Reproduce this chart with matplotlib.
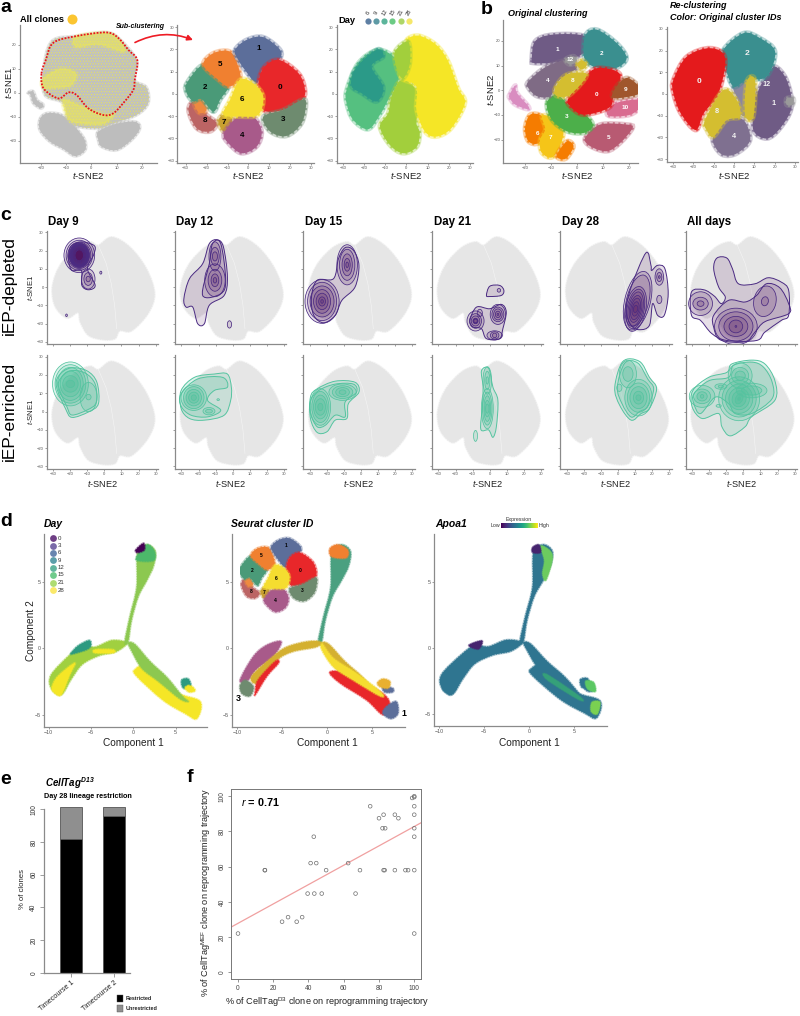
import numpy as np
import matplotlib
matplotlib.use('Agg')
import matplotlib.pyplot as plt
from matplotlib.path import Path
from matplotlib.patches import PathPatch, Ellipse, FancyArrowPatch, Rectangle

plt.rcParams['font.family'] = ['Liberation Sans', 'DejaVu Sans']
plt.rcParams['mathtext.fontset'] = 'custom'
plt.rcParams['mathtext.rm'] = 'Liberation Sans'
plt.rcParams['mathtext.it'] = 'Liberation Sans:italic'
plt.rcParams['mathtext.bf'] = 'Liberation Sans:bold'
plt.rcParams['mathtext.default'] = 'regular'
plt.rcParams['hatch.linewidth'] = 0.35

W, H = 800, 1016
TSNE2 = r'$\mathit{t}$-SNE2'
TSNE1 = r'$\mathit{t}$-SNE1'

# ---- panel a, outlines (t-SNE units)
a1_body = [(-19, 8.8), (-15.7, 21.3), (-5.8, 23.6), (6, 25.1), (11.3, 22.2), (17.9, 13.6), (17.2, 5.3), (21.8, 2.2),
           (22.5, -4.4), (17.9, -9.3), (8.7, -12.8), (2.1, -14.9), (-8.4, -12.8), (-11, -4.4), (-18.3, -1)]
a1_strand = [(-25, 0), (-24, -1), (-22.9, -4.4), (-20, -6.5), (-19, -5), (-21.5, -3), (-23, 0.5)]
a1_low_left = [(-20.3, -11), (-17.6, -8.6), (-12.4, -9), (-8.4, -12), (-5, -16), (-2.5, -20), (-2.5, -24), (-6.4, -26.4),
               (-11, -23.5), (-16.3, -20.4), (-20.3, -15.6)]
a1_low_right = [(2.7, -16.3), (9.3, -13.1), (17.2, -12.1), (19.2, -14.9), (15.9, -19.7), (10, -23.9), (4.1, -22.5),
                (2.8, -19.7)]
a1_yellow_top = [(-6, 23.4), (6, 25), (11, 22), (13, 17), (3, 20), (-6, 19)]
a1_yellow_left = [(-19, 6), (-12, 10), (-6, 8), (-8, 3), (-14, 2), (-19, 2)]
a1_yellow_low = [(-11, -3), (-3, -6), (5, -9), (9, -9), (5, -13), (-3, -13), (-9, -11)]
a1_red_line = [(-19.7, 8), (-18, 13.6), (-15, 20.8), (-5.8, 23.6), (6, 25.1), (10.7, 22.8), (14.7, 17.8), (18.2, 13.6),
               (17.2, 5.3), (16.6, 1.1), (12.6, -4.4), (8.7, -8.6), (4.7, -9.3), (-1.2, -6.5), (-5.8, -1), (-9.1, 0.1),
               (-13, -2.4), (-18.9, 1.8)]

sub_1 = [(-6.5, 19.7), (-0.9, 24.3), (7.1, 25.5), (15.2, 19.7), (14.4, 15.3), (7.1, 11.6), (3.9, 4.8), (-1.7, 10.8), (-4.9, 15.3)]
sub_0 = [(7.1, 11.6), (14.4, 15.3), (23.9, 9.3), (27, 1.8), (25.4, -2.7), (16.6, -7.2), (7.1, -7.2), (4.7, 3.3)]
sub_3 = [(16.6, -7.2), (25.4, -2.7), (27.5, -4.2), (25.4, -13.2), (18.2, -18.9), (10.3, -16.9), (7.1, -10.2)]
sub_4 = [(-11.7, -17.7), (-4.9, -10.2), (2.3, -10.2), (6.3, -16.9), (3.9, -23.7), (-3.3, -26.7), (-9.6, -22.2)]
sub_6 = [(-4.1, 6.3), (2.3, 4.8), (7.1, -1.2), (4.7, -9.4), (-4.1, -10.2), (-12, -9.4), (-8.8, -2.7)]
sub_7 = [(-14.4, -12.4), (-12, -9.4), (-8, -10.9), (-8.8, -15.4), (-12, -16.9)]
sub_8 = [(-28.7, -7.2), (-25.6, -3.4), (-20, -9.4), (-15.2, -13.2), (-18.4, -16.9), (-24.8, -15.4)]
sub_8b = [(-25.6, -3.4), (-22.4, -2.4), (-20, -7.2), (-23.2, -8.7), (-25.6, -5.7)]
sub_2 = [(-29.5, 4.8), (-21.6, 13), (-14.4, 6.3), (-9.6, 3.3), (-13.6, -2.7), (-16.8, -8), (-22.4, -2.4), (-26.3, -3.4), (-29.5, 0.3)]
sub_5 = [(-21.6, 13), (-16.8, 18.3), (-8.8, 19), (-4.9, 12.3), (-4.1, 6.3), (-9.6, 3.3), (-14.4, 6.3)]
sub_shapes = [sub_8, sub_8b, sub_2, sub_5, sub_1, sub_0, sub_3, sub_7, sub_4, sub_6]
sub_colors = ['#BC6464', '#EE8A40', '#4A9A78', '#F08030', '#5C6E9A', '#E8272A', '#6E8B6F', '#C8A030', '#A85A8A', '#F5DD30']
sub_ids = ['1', '0', '5', '2', '6', '3', '8', '7', '4']
sub_id_x = [4.7, 15, -13.6, -20.8, -3.1, 16.4, -21, -11.7, -3.1]
sub_id_y = [20.2, 3, 13, 3, -2.7, -11.7, -12, -12.7, -18.9]

day_green = [(-28.4, 1.8), (-22.9, 13.8), (-13.4, 19.8), (-4.7, 15.3), (-3.9, 6.3), (-8.7, -2.7), (-12.6, -9.4), (-18.2, -15.9), (-25.3, -11.7), (-28.4, -4.2)]
day_teal = [(-25.3, 9.3), (-20.5, 15.3), (-13.4, 20.1), (-11, 16.8), (-16.6, 12.3), (-11, 3), (-14.2, -3.4), (-21.3, 0.3), (-26, 3.3)]
day_lime_up = [(-5.5, 19), (0.8, 23.5), (1.6, 13.8), (-1.6, 7), (-4.7, 11.5)]
day_lime_low = [(-2.4, 6.3), (4.7, 1.8), (5.5, -7.2), (4.7, -13.2), (6.3, -17.7), (4.7, -24), (-1.6, -26.7), (-7.9, -23), (-12.6, -14.7), (-8.7, -8.7), (-7.1, -1.2)]
day_yellow = [(0.8, 25), (6.3, 26.1), (14.2, 22), (19.8, 14.6), (24.5, 2.5), (27.7, -4.2), (21.3, -15.4), (14.2, -19.2), (8.7, -16.9), (4.7, -7.2), (4.7, 3.3), (-2.4, 7), (-3.2, 13), (-0.8, 21.3)]
day_shapes = [day_green, day_teal, day_lime_low, day_yellow, day_lime_up]
day_colors = ['#55C080', '#2B9A88', '#A2CF3C', '#F5E626', '#A2CF3C']
day_names = ['6', '9', '12', '15', '21', '28']
day_swatch = ['#5E7FA3', '#5E9AA5', '#5CB59B', '#6CCB85', '#AED668', '#F5E76A']

# ---- panel b
orig_1 = [(-17.4, 12.4), (-16.1, 19.9), (-9, 22.6), (3.1, 21.9), (3.1, 15.8), (-2.7, 12.4), (-10.4, 11.1), (-16.8, 11.1)]
orig_2 = [(3.1, 21.9), (7.6, 24.6), (15.3, 19.2), (19.2, 13.1), (15.3, 9.1), (8.3, 9.1), (3.1, 12.4)]
orig_4 = [(-18.7, 3.6), (-11.6, 9.7), (-2.7, 12.4), (0, 9.1), (-3.9, 6.4), (-7.7, 3), (-10.3, -2.4), (-15.4, -2.4), (-18.7, 0.9)]
orig_8 = [(-8.4, 0.9), (-3.9, 6.4), (3.9, 6.4), (-2.6, -1.8), (-7.7, -2.4)]
orig_12 = [(-4.5, 12.4), (-1.3, 13.8), (0, 11.8), (-2.6, 10.4)]
orig_y = [(0, 10.4), (1.9, 12.2), (3.9, 10.4), (1.9, 8.4)]
orig_0 = [(-3.2, -3.1), (3.9, 6.4), (9, 9.1), (16.7, 6.4), (14.2, -2.4), (12.2, -7.2), (2.6, -9.9), (-2.6, -6.5)]
orig_9 = [(14.8, 0.9), (19.3, 5), (24.5, 0.9), (23.2, -1.8), (14.2, -3.1)]
orig_10 = [(11.8, -8.5), (15.4, -5.1), (23.8, -3.8), (24.7, -6.5), (20.6, -9.9), (12.9, -10.5)]
orig_3 = [(-11.6, -5.1), (-7.7, -1.8), (-2.6, -6.5), (3.9, -10.5), (6.2, -14.6), (2.6, -17.3), (-3.9, -16.6), (-9.7, -11.9)]
orig_5 = [(3.2, -19.3), (9, -13.9), (19.3, -13.9), (21.5, -15.3), (16.7, -21.4), (11.6, -24.7), (5.2, -22.7)]
orig_6 = [(-20, -15.3), (-18, -9.9), (-13.5, -10.5), (-12.2, -15.9), (-14.8, -21.4), (-18.7, -20.7)]
orig_7 = [(-13.5, -10.5), (-9.7, -11.2), (-5.2, -17.3), (-9, -26.8), (-13.5, -25.4), (-14.2, -20), (-12.2, -15.9)]
orig_6b = [(-7.7, -26.1), (-3.9, -20.7), (-1.3, -22.7), (-3.9, -27.4), (-6.5, -27.8)]
orig_pink = [(-26, -1.8), (-23.8, 1.9), (-23.2, -1), (-18.7, -6.5), (-19.3, -7.6), (-23.8, -5.8), (-26, -3.1)]
orig_shapes = [orig_pink, orig_6, orig_7, orig_6b, orig_5, orig_3, orig_1, orig_2, orig_4, orig_10, orig_0, orig_8, orig_9, orig_12, orig_y]
orig_colors = ['#D98CC0', '#F57C00', '#F5C518', '#F57C00', '#B85A72', '#4CAF4A', '#6F5B85', '#3A8F8F', '#7F6B85', '#D96C90', '#E41A1C', '#D4BE30', '#A0562C', '#9A9A9A', '#D4BE30']
orig_ids = ['1', '2', '4', '8', '0', '9', '10', '3', '5', '6', '7', '12']
orig_id_x = [-7.4, 9.5, -11.3, -1.5, 7.6, 18.8, 18.8, -3.8, 12.3, -15.2, -10.3, -2.5]
orig_id_y = [16.5, 15, 4, 4, -1.6, 0.2, -7, -10.5, -19, -17.6, -19, 12.5]

re_0 = [(-29.9, 6.5), (-23.3, 17.2), (-11.8, 21.1), (-4.4, 16.5), (-7.7, 0.3), (-15, -8.9), (-18.9, -16.6), (-26.3, -8.9), (-29.9, 0.3)]
re_2 = [(-5.3, 20.3), (4.6, 28), (12.8, 25.7), (20.2, 19.5), (16.1, 8), (6.2, 6.5), (-0.3, 3.4), (-4.4, 12.6)]
re_1 = [(16.1, 8), (20.2, 12.6), (25.9, 6.5), (28.4, -5.8), (22.7, -15.8), (16.1, -20.5), (9.5, -16.6), (10.3, -4.3), (12.8, 3.4)]
re_4 = [(-10.2, -19.7), (-3.6, -12), (4.6, -12), (7.9, -21.2), (1.3, -27.4), (-5.3, -28.2), (-9.4, -24.3)]
re_8 = [(-14.3, -12), (-5.3, 1.8), (1.3, -2.8), (3, -10.5), (-3.6, -12), (-10.2, -19.7), (-13.5, -16.6)]
re_y = [(6.2, 5.7), (10.3, 6.5), (9.5, -10.5), (5.4, -9.7)]
re_g = [(25.9, -2), (29.2, -2), (28.9, -5), (25.9, -5)]
re_mid = [(-0.3, 3.4), (6.2, 6.5), (10, 3), (10, -8), (4, -10), (2, -3)]
re_shapes = [re_mid, re_1, re_4, re_2, re_0, re_8, re_y, re_g]
re_colors = ['#8C86A0', '#6F5B85', '#7F7090', '#3A8F8F', '#E41A1C', '#D4BE30', '#D4BE30', '#9A9A9A']
re_ids = ['2', '0', '12', '1', '8', '4']
re_id_x = [6.6, -17.4, 16.1, 19.4, -8.5, -0.3]
re_id_y = [18.5, 5.7, 4.2, -4.3, -8.2, -19.7]

# ---- panel c, grey map and density contours
map_outline = [(-30.6, -1.8), (-28.5, 7), (-24, 14.5), (-16, 21.9), (-8.3, 24.7), (-3.5, 22.9), (4.3, 27.4), (14.9, 21.9), (24.6, 10),
               (29.4, -3.7), (25.5, -14.6), (15.9, -24), (9, -24), (6.2, -28.3), (-0.6, -28.9), (-9.3, -26.5),
               (-14.1, -19.2), (-15.5, -14), (-21.9, -17), (-28.6, -11)]
map_gap_x = [-3.5, 1, 4, 6, 7.2]
map_gap_y = [22.9, 13, 2, -10, -22.9]

# peak rows: centre x, centre y, ring widths, ring heights, tilt
dep_d9_lines = [[(-20.9, 14.6), (-19.9, 21.9), (-14.1, 24.7), (-8.3, 23.8), (-5.4, 21.9), (-6.4, 17.4), (-9.9, 10), (-5.4, 0.9), (-9.3, -1.5), (-13.2, 0.9), (-13.5, 9.1), (-19, 9.1)]]
dep_d9_peaks = [(-14.7, 17.4, [18, 15.5, 13.5, 12, 11.5, 11, 10.5, 10, 9.5, 9, 8.5, 8, 7, 6, 5], [19, 16.5, 14.5, 13.5, 13, 12.5, 12, 11.5, 11, 10.5, 10, 9, 8, 7, 6], 0),
                (-9.5, 4.4, [8, 5, 2.5], [11, 7, 3], 0), (-2.1, 7.9, [1.2], [1.6], 0), (-22.2, -15.5, [1], [1.4], 0)]
dep_d12_lines = [[(-28.6, -6.4), (-25.3, 4.6), (-17.6, 12.8), (-13.7, 23.8), (-8.9, 25.9), (-5.4, 21.9), (-3.1, 5.5), (-5, -4.6), (-13.7, -10), (-16.6, -20.1), (-20.5, -20.1), (-23.4, -11), (-27.3, -11)],
                 [(-17.6, -4.6), (-13.7, 12.8), (-11.8, 23.8), (-7, 23.8), (-4.1, 3.7), (-7, -3.7)]]
dep_d12_peaks = [(-10.4, 16.8, [7, 5, 3], [16, 10, 5], 0), (-10.4, 3.7, [12, 8, 4.5, 2], [18, 12, 7, 3], 0), (-1.9, -20.5, [2.5], [4], 0)]
dep_d15_lines = [[(-29, -5.5), (-25.7, 3.7), (-16.1, 4.6), (-13.2, 15.5), (-9.3, 21.6), (-4.4, 20.1), (-1.2, 11.9), (-3.5, 0), (-11.2, -7.3), (-15.1, -15.5), (-21.9, -19.6), (-27.7, -15.5)]]
dep_d15_peaks = [(-8.1, 12.2, [12, 9, 6, 3.5, 1.5], [22, 17, 12, 7, 3], 0), (-22.8, -7.9, [20, 17, 14, 10, 7, 4, 1.5], [24, 21, 17, 13, 9, 5, 2], 0)]
dep_d21_lines = [[(-1.9, -4.6), (0, 0.4), (5.8, 0.9), (8.3, -1.8), (6.8, -4.6), (0, -5.2)],
                 [(-11.6, -18.3), (-7.7, -11), (0, -11.9), (6.8, -9.5), (9.7, -13.7), (7.7, -22.9), (5.8, -28.3), (-1.9, -28.3), (-4.8, -22.9), (-9.7, -21.9)]]
dep_d21_peaks = [(5.4, -1.8, [2], [2], 0), (-8.3, -18.6, [10, 7, 5, 3, 2.5, 2], [11, 8, 5.5, 3, 2.5, 2], 0), (4.8, -15, [9, 7, 5, 3, 1], [11, 8, 6, 3.5, 1.2], 0),
                 (2.9, -26.5, [9, 5, 2.5], [5, 4, 2.5], 0), (-5.8, -14.2, [3], [4], 0)]
dep_d28_lines = [[(4.8, -12.8), (7.7, 0), (16.4, 18.8), (19.3, 11.9), (19.7, 9.1), (23.2, 11.9), (27.5, 10), (29.4, -3.7), (27.1, -15.5), (23.2, -15.5), (20.3, -9.1), (18.4, -21), (12.6, -23.4), (7.7, -21)]]
dep_d28_peaks = [(24.2, 5.5, [5, 3, 1], [9, 5, 1.5], 0), (24.2, -6.8, [3], [4.5], 0), (11.5, -7.5, [15, 13], [33, 29], -15),
                 (10.3, -12, [12, 10, 8.5, 7, 5.5, 4, 2.5], [25, 22, 19, 15, 12, 8, 4], -12)]
dep_all_lines = [[(-30.4, -15.5), (-30.4, -2.7), (-23.2, -1.5), (-17, -5), (-13, -9.1), (-10.6, -5.5), (-14.5, 0), (-17.4, 10), (-15.5, 15.9), (-9.7, 15.9), (-6.4, 10), (-2.9, 1.8), (6.8, 1.8), (14.5, 5.1), (22.2, 2.7), (26.5, -1.8), (26.5, -15.5), (22.2, -18.3), (12.6, -24.7), (7.7, -29.3), (-9.7, -29.3), (-18.4, -25.6), (-25.1, -18.3)],
                 [(-17.4, -15.5), (-8.7, -7.3), (1, -8.2), (7.7, -4.6), (13.5, 1.8), (21.3, -0.4), (26.5, -9.1), (26.5, -14.6), (12.6, -19), (6.8, -24.7), (1, -30), (-13.5, -29), (-17.4, -22)]]
dep_all_peaks = [(-25.1, -9.1, [14, 9, 4], [13, 7, 3], 0), (-4.4, -21.6, [25, 20, 14, 8, 1], [20, 16, 11, 7, 1], 0), (12.6, -7.8, [13, 4], [17, 5], -15)]

enr_d9_lines = [[(-28, 13.3), (-26.7, 19.6), (-19.9, 23.8), (-10.3, 22.3), (-4.4, 16), (-3.5, 4.3), (-9.3, -0.2), (-19, -3.2), (-22.8, 1.6)],
                [(-26.8, 13.3), (-25.6, 18.2), (-19.9, 22.3), (-11.2, 21), (-5.4, 15), (-4.8, 5), (-9.8, 1), (-19, -1.9), (-21.9, 2.5)]]
enr_d9_peaks = [(-19.9, 15.1, [21, 18, 15, 12, 9, 5], [24, 21, 18, 14, 9, 4], 0), (-9.3, 7.9, [10, 3], [16, 3], 0)]
enr_d12_lines = [[(-30.2, 11.5), (-22.4, 18.7), (-10.8, 20.5), (-3.1, 20.5), (-0.8, 13.3), (-1.2, 6.1), (-5, -2), (-16.6, -4.7), (-25.3, -3.8), (-30.2, 1.6)],
                 [(-30.2, 9.7), (-20.5, 17.8), (-6, 18.7), (-3.1, 13.3), (-10.8, 11.5), (-14.7, 6.1), (-7, 0.7), (-14.7, -2.9), (-24.4, -2), (-30.2, 2.9)]]
enr_d12_peaks = [(-22.8, 7.6, [15, 12, 9, 6, 3], [14, 12, 9, 6, 3], 0), (-13.9, 0.2, [7, 4], [4, 2], 0), (-8.5, 6.5, [1.5], [1], 0)]
enr_d15_lines = [[(-29.6, 7.9), (-25.7, 12.4), (-15.1, 16.6), (-3.5, 16), (-1.2, 10.6), (-7.4, 4.3), (-8.3, -3.8), (-15.1, -4.7), (-19.9, -11), (-25.7, -11.4), (-29.6, -3.8)],
                 [(-29.6, 6), (-24.8, 11.5), (-15.1, 15), (-4.5, 15), (-2.6, 10.6), (-9.3, 5.2), (-9.3, -2.9), (-15.1, -2), (-20.9, -7.5), (-25.7, -8.3), (-29.6, -1.1)]]
enr_d15_peaks = [(-10.8, 10.6, [16, 12, 8, 4], [9, 7, 5, 2.5], 0), (-23.8, 2.5, [12, 10, 8, 6, 3], [20, 17, 13, 9, 4], 0)]
enr_d21_lines = [[(-4.8, 22.3), (-0.6, 23.6), (1.9, 13.3), (4.8, 6.1), (3.9, -8.3), (1.9, -14.1), (-0.6, -10.1), (-5.2, -9.7), (-4.3, 2.5), (-3.9, 13.3)]]
enr_d21_peaks = [(-1.4, 1.6, [7, 5.5, 4, 3, 2], [22, 18, 14, 9, 5], 0), (-1.4, 17, [5, 3, 1.5], [15, 10, 4], 0), (-8.3, -13.3, [2.3], [6], 0)]
enr_d28_lines = [[(2.9, 27.4), (12.6, 27.4), (18.4, 18.7), (22.6, 12.4), (18.4, 1.6), (13.5, -1.1), (7.7, -4.7), (1, 3.4), (-1.9, 13.3)],
                 [(4, 26.5), (11.6, 26.5), (17.4, 17.8), (20.9, 12.4), (17.4, 2.7), (12.6, 0), (7.7, -3), (2.5, 4), (-0.4, 13.3)]]
enr_d28_peaks = [(12, 7.6, [16, 13, 10, 6, 3], [20, 16, 12, 7, 3], 0), (5.8, 20.5, [10, 6], [15, 8], 0), (0.8, 13, [3], [4], 0)]
enr_all_lines = [[(-29.6, 11.5), (-20.3, 18.7), (-9.7, 21.4), (-6.8, 26), (4.8, 28.1), (12.6, 26), (18.4, 17), (18.4, 6.1), (4.8, -2.9), (1, -8.3), (-7.7, -13.3), (-12.6, -8.3), (-14.5, -1.1), (-24.2, -3.8), (-30, 2.5)],
                 [(-29, 9.7), (-20.3, 16.8), (-8.7, 18.7), (-5.8, 25.2), (4.8, 27), (11.6, 24.4), (16.8, 16.2), (16.8, 7), (4.8, -1.1), (-4.8, -1.1), (-8.7, 4.3), (-16.4, 7.9), (-25.1, -1.1), (-29, 4.3)]]
enr_all_peaks = [(-24.2, 8.3, [15, 10, 6, 2], [12, 8, 5, 2], 0), (-13.2, 13.7, [7, 3], [3, 1.5], 0), (-2.5, 7, [24, 20, 16, 12, 8, 4, 1.5], [24, 20, 16, 12, 9, 6, 2], -30),
                 (-1.9, 19.6, [14, 10, 6], [14, 9, 5], 0), (4.8, 11.5, [18, 12], [8, 5], 0), (-14.5, 3.1, [3], [1.5], 0)]

c_titles = ['Day 9', 'Day 12', 'Day 15', 'Day 21', 'Day 28', 'All days']
c_dep_lines = [dep_d9_lines, dep_d12_lines, dep_d15_lines, dep_d21_lines, dep_d28_lines, dep_all_lines]
c_dep_peaks = [dep_d9_peaks, dep_d12_peaks, dep_d15_peaks, dep_d21_peaks, dep_d28_peaks, dep_all_peaks]
c_enr_lines = [enr_d9_lines, enr_d12_lines, enr_d15_lines, enr_d21_lines, enr_d28_lines, enr_all_lines]
c_enr_peaks = [enr_d9_peaks, enr_d12_peaks, enr_d15_peaks, enr_d21_peaks, enr_d28_peaks, enr_all_peaks]

# ---- panel d, branches in component units
stem = [(-1, 0.5), (-0.4, 2.4), (0.4, 4.6), (0.5, 7.2), (1.6, 7.8), (2.6, 7.3), (2.4, 6.2), (1.6, 5.1), (0.6, 3.9), (-0.2, 2.1), (-0.6, 0.5)]
head = [(0.5, 7), (1.6, 7.8), (2.5, 7.3), (2.4, 6.6), (0.5, 6.6)]
head_dark = [(0.3, 7.4), (1.2, 7.9), (1.3, 7.4), (0.5, 7.2)]
left_branch = [(-0.8, 0.4), (-2.5, 0.6), (-4.5, 0.1), (-6, 0.2), (-7.5, -0.5), (-9.7, -2), (-9.7, -3), (-8.5, -3.5), (-7.3, -2.3), (-6, -1.2), (-4, -0.55), (-2, -0.25)]
left_yellow = [(-9.6, -2.9), (-8.9, -2.1), (-6.9, -1.1), (-7.5, -2), (-8.5, -3.5), (-9.4, -3.3)]
left_streak = [(-4.5, -0.35), (-2.4, -0.35), (-2.4, -0.1), (-4.5, -0.1)]
left_bump = [(-7.4, -0.4), (-6.5, 0.2), (-5.2, 0.6), (-5, 0.2), (-5.5, -0.1), (-7, -0.4)]
right_branch = [(-0.6, 0.4), (0.2, 0.3), (2, -1), (4, -2.2), (5.8, -3.6), (6.5, -4), (5.5, -3.8), (3, -2.5), (1, -1.5), (-0.2, -0.2)]
right_yellow = [(0.2, -1.6), (1.6, -1.4), (5.1, -3.3), (7.9, -4), (7.5, -5.3), (6.1, -4.9), (3.5, -3.9), (0.4, -2.1)]
small_teal = [(5.7, -2.4), (6.5, -2.3), (6.8, -2.9), (5.9, -3)]
small_yellow = [(6.5, -2.8), (7, -2.9), (7.3, -3.2), (6.6, -3.3), (6.1, -3)]

s_magenta = [(-9.7, -2.4), (-8.2, -0.6), (-6.7, 0.25), (-5.1, 0.5), (-6, -0.6), (-7.9, -1.6), (-8.8, -2.4)]
s_olive = [(-8.4, -2.1), (-6, -0.6), (-4.5, 0.1), (-2.3, 0.5), (-0.8, 0.5), (-1.2, 0.1), (-3.8, -0.25), (-5.6, -0.9), (-7.7, -2.6)]
s_red_left = [(-8, -3.3), (-7.7, -2.4), (-5.8, -1), (-5.4, -1.1), (-6.7, -2.1), (-8, -3.5)]
s_grey = [(-9.7, -2.8), (-9.1, -2.4), (-8.2, -2.9), (-8.6, -3.6), (-9.5, -3.4)]
s_red_right = [(0.3, -1.8), (2.1, -1.9), (6.2, -3.4), (7, -4.4), (6.2, -5), (4.4, -3.9), (1.4, -2.6)]
s_yellow_right = [(-0.6, 0.4), (0.7, -0.75), (3.3, -1.9), (6, -3.3), (5.9, -3.6), (2.9, -2.4), (0.7, -1.4), (-0.6, -0.1)]
s_tail = [(6.6, -4.4), (7.7, -4), (7.9, -4.9), (7.1, -5.3), (6.2, -4.9)]
s_small_top = [(5.6, -2.6), (6.2, -2.3), (7, -2.5), (6.8, -3), (5.9, -2.9)]
s_small_low = [(6.2, -2.9), (7.3, -3), (7.3, -3.3), (6.4, -3.3)]
s_head = [(0.3, 7.5), (1.2, 7.8), (2.3, 7.4), (2.1, 6.8), (0.5, 6.9)]

x_head_hi = [(1.3, 7.7), (2.4, 7.3), (2.6, 6.6), (1.9, 5.1), (1.5, 5.6), (1.7, 6.6)]
x_head_lo = [(0.4, 7.6), (1.1, 7.8), (1.3, 7.2), (0.4, 7.2)]
x_bump = [(-6.7, 0.2), (-5.2, 0.55), (-5.6, -0.1)]
x_small = [(6.3, -2.5), (7.2, -2.6), (7.4, -3.3), (6.5, -3.1)]
x_tail = [(7, -4.1), (7.9, -4.1), (7.6, -5), (6.9, -4.8)]
x_streak = [(2, -2), (5.7, -3.7), (5.5, -3.9), (2, -2.4)]

d_days = ['0', '3', '6', '9', '12', '15', '21', '28']
d_day_colors = ['#6F3F85', '#7A6AA8', '#6885AF', '#5C9FAA', '#62B59E', '#6FCB8C', '#AEDC72', '#FBE96A']

# ---- panel e
e_groups = ['Timecourse 1', 'Timecourse 2']
e_restricted = [81.8, 95.9]
e_unrestricted = [19.4, 5.3]

# ---- panel f
f_x = [0, 15.2, 15.3, 25, 28.4, 33.3, 36.4, 39.5, 41.2, 43, 43.3, 44.4, 47.5, 50, 62.5, 66.7, 69.2, 75, 80, 82, 82.6, 82.6, 83.2,
       83.5, 89, 89, 91, 95, 96.5, 98.8, 100, 100, 100, 100, 100, 100, 100, 100]
f_y = [22, 58, 58, 28.7, 31.3, 28.7, 31.3, 44.7, 62, 77, 44.7, 62, 44.7, 58, 62, 44.7, 58, 94.3, 87.5, 81.8, 89.5, 58, 58,
       81.8, 58, 89.5, 87.5, 58, 58, 99, 99.5, 100, 94.3, 89.5, 81.8, 77, 58, 22]
f_intercept = 27.8
f_slope = 0.55

PURPLE = '#4A2A82'
GREEN = '#55C4A0'

fig = plt.figure(figsize=(W / 100, H / 100), dpi=100)


def make_ax(left, right, top, bottom, xlim, ylim):
    ax = fig.add_axes([left / W, 1 - bottom / H, (right - left) / W, (bottom - top) / H])
    ax.set_xlim(*xlim)
    ax.set_ylim(*ylim)
    ax.spines['top'].set_visible(False)
    ax.spines['right'].set_visible(False)
    for s in ['left', 'bottom']:
        ax.spines[s].set_color('#8a8a8a')
        ax.spines[s].set_linewidth(0.9)
    ax.tick_params(length=1.2, width=0.4, pad=1, labelsize=3, colors='#555555')
    return ax


def blob(ax, pts, color, alpha=1.0, z=2, halo=3.5, hatch=None, hatch_color=None):
    # closed smooth outline through the read points, soft rim for the fuzzy point clouds
    p = np.array(pts, dtype=float)
    n = len(p)
    verts = [p[0]]
    codes = [Path.MOVETO]
    for i in range(n):
        a, b, c, d = p[i - 1], p[i], p[(i + 1) % n], p[(i + 2) % n]
        verts += [b + (c - a) / 6, c - (d - b) / 6, c]
        codes += [Path.CURVE4] * 3
    path = Path(verts, codes)
    if halo > 0:
        ax.add_patch(PathPatch(path, fc='none', ec=color, lw=halo, alpha=0.35 * alpha, zorder=z))
        ax.add_patch(PathPatch(path, fc='none', ec=color, lw=halo * 0.6, ls=(0, (0.7, 1.2)), alpha=0.7 * alpha, zorder=z))
    ax.add_patch(PathPatch(path, fc=color, ec='none', alpha=alpha, zorder=z))
    if hatch:
        ax.add_patch(PathPatch(path, fc='none', ec=hatch_color, lw=0, hatch=hatch, zorder=z + 0.1))
    return path


def contours(ax, lines, peaks, color, edge, alpha):
    for ln in lines:
        path = blob(ax, ln, color, alpha=alpha, z=3, halo=0)
        ax.add_patch(PathPatch(path, fc='none', ec=edge, lw=0.7, zorder=4))
    for cx, cy, ws, hs, ang in peaks:
        for w, h in zip(ws, hs):
            ax.add_patch(Ellipse((cx, cy), w, h, angle=ang, fc=color, ec='none', alpha=alpha, zorder=3))
            ax.add_patch(Ellipse((cx, cy), w, h, angle=ang, fc='none', ec=edge, lw=0.55, zorder=4))


ticks30 = [-30, -20, -10, 0, 10, 20, 30]
ticks20 = [-20, -10, 0, 10, 20]

# ---- a
ax = make_ax(19.5, 157, 25, 163, (-28.4, 26), (-29.3, 28.2))
ax.set_xticks(ticks20)
ax.set_yticks(ticks20)
for shp in [a1_strand, a1_low_left, a1_low_right]:
    blob(ax, shp, '#BDBDBD', halo=2.5)
blob(ax, a1_body, '#C2C2BC', halo=2.5, hatch='......', hatch_color='#EDE94E')
for shp in [a1_yellow_top, a1_yellow_left, a1_yellow_low]:
    blob(ax, shp, '#EFEA50', alpha=0.55, z=2.5, halo=3)
red_path = blob(ax, a1_red_line, 'none', alpha=0, z=5, halo=0)
ax.add_patch(PathPatch(red_path, fc='none', ec='#E8141C', lw=1.3, ls=(0, (1, 0.8)), zorder=6))

ax = make_ax(177.3, 314, 25, 163, (-34, 31.3), (-31.1, 31))
ax.set_xticks(ticks30)
ax.set_yticks(ticks30)
for shp, col in zip(sub_shapes, sub_colors):
    blob(ax, shp, col)
for s, x, y in zip(sub_ids, sub_id_x, sub_id_y):
    ax.text(x, y, s, fontsize=5.8, fontweight='bold', ha='center', va='center', zorder=8)

ax = make_ax(336.7, 472.7, 25, 163, (-33.1, 31.4), (-31.1, 31))
ax.set_xticks(ticks30)
ax.set_yticks(ticks30)
for shp, col in zip(day_shapes, day_colors):
    blob(ax, shp, col)

# ---- b
ax = make_ax(503.3, 638, 20, 163.3, (-28.4, 23.6), (-29.6, 28.5))
ax.set_xticks(ticks20)
ax.set_yticks(ticks20)
for shp, col in zip(orig_shapes, orig_colors):
    blob(ax, shp, col)
for s, x, y in zip(orig_ids, orig_id_x, orig_id_y):
    ax.text(x, y, s, fontsize=4.6, fontweight='bold', color='white', ha='center', va='center', zorder=8)

ax = make_ax(666.7, 798, 26.7, 161.7, (-33.2, 31.5), (-31.2, 31))
ax.set_xticks(ticks30)
ax.set_yticks(ticks30)
for shp, col in zip(re_shapes, re_colors):
    blob(ax, shp, col)
for s, x, y in zip(re_ids, re_id_x, re_id_y):
    ax.text(x, y, s, fontsize=6 if s in ('2', '0') else 5.2, fontweight='bold', color='#F2F2F2', ha='center', va='center', zorder=8)

# ---- c
col_left = [46.7, 175, 303.3, 432, 560.3, 685.7]
for i, left in enumerate(col_left):
    for row, (top, bottom) in enumerate([(230.7, 344.3), (355, 469)]):
        ax = make_ax(left, left + 111.3, top, bottom, (-33.8, 31.4), (-31.4, 30.9))
        ax.set_xticks(ticks30)
        ax.set_yticks(ticks30)
        if row == 0:
            ax.set_xticklabels([])
        if i > 0:
            ax.set_yticklabels([])
        blob(ax, map_outline, '#E6E6E6', z=1, halo=1.5)
        ax.plot(map_gap_x, map_gap_y, color='white', lw=0.4, alpha=0.6, zorder=1.5)
        if row == 0:
            contours(ax, c_dep_lines[i], c_dep_peaks[i], '#440154', PURPLE, 0.13)
        else:
            contours(ax, c_enr_lines[i], c_enr_peaks[i], '#3DBB90', GREEN, 0.17)
        if row == 1:
            ax.set_xlabel(TSNE2, fontsize=6.6, labelpad=1.5, color='#222222')
        if i == 0:
            ax.set_ylabel(TSNE1, fontsize=5.6, labelpad=1.5, color='#222222')

# ---- d
dy = (-5.9, 8.6)
ax = make_ax(44, 206.7, 534, 726.7, (-10.54, 8.67), dy)
for shp, col, z in [(left_branch, '#A0D040', 2), (left_yellow, '#F5E626', 2.5), (left_streak, '#F5E626', 2.6), (left_bump, '#2C9A80', 2.5),
                    (stem, '#8CC850', 2), (head, '#4CB86A', 2.5), (head_dark, '#440154', 3), (right_branch, '#8CC850', 2.5),
                    (right_yellow, '#F5E626', 2), (small_teal, '#2C9A80', 2), (small_yellow, '#F5E626', 2)]:
    blob(ax, shp, col, z=z, halo=1.6)

ax2 = make_ax(232.3, 405, 534, 726.7, (-10.56, 8.67), dy)
for shp, col, z in [(stem, '#4AA080', 2), (s_head, '#F08030', 2.5), (s_magenta, '#A85A8A', 2.5), (s_olive, '#D4B030', 2.6), (s_red_left, '#E8272A', 2.7),
                    (s_grey, '#6E8B6F', 2.8), (right_branch, '#D4B030', 2), (s_red_right, '#E8272A', 2.2), (s_yellow_right, '#F5DD30', 2.3),
                    (s_tail, '#5C6E9A', 2.5), (s_small_top, '#E8B030', 2.2), (s_small_low, '#5C6E9A', 2.1)]:
    blob(ax2, shp, col, z=z, halo=1.6)

ax3 = make_ax(433.7, 606.7, 534, 726, (-10.58, 8.64), dy)
for shp in [stem, left_branch, left_yellow, right_branch, right_yellow, small_teal, small_yellow]:
    blob(ax3, shp, '#2F7590', z=2, halo=1.6)
for shp, col, z in [(x_head_hi, '#6CCB5F', 2.5), (x_head_lo, '#46246E', 2.6), (x_bump, '#46246E', 2.6), (x_small, '#5CC863', 2.5),
                    (x_tail, '#7AD151', 2.5), (x_streak, '#35A079', 2.5)]:
    blob(ax3, shp, col, z=z, halo=1.2)
for a in [ax, ax2, ax3]:
    a.set_xticks([-10, -5, 0, 5])
    a.set_yticks([-5, 0, 5])
    a.set_xticklabels(['\u221210', '\u22125', '0', '5'])
    a.set_yticklabels(['\u22125', '0', '5'])
    a.tick_params(labelsize=3.8)

ins = fig.add_axes([239.5 / W, 1 - 616.6 / H, 81 / W, 84.6 / H])
ins.set_xlim(-30, 30)
ins.set_ylim(-30, 30)
ins.axis('off')
for shp, col in zip(sub_shapes, sub_colors):
    blob(ins, shp, col, halo=2.2)
for s, x, y in zip(sub_ids, sub_id_x, sub_id_y):
    ins.text(x, y, s, fontsize=3.6, fontweight='bold', ha='center', va='center', zorder=8)

bar = fig.add_axes([501 / W, 1 - 527.7 / H, 36.3 / W, 4.4 / H])
bar.imshow(np.linspace(0, 1, 64).reshape(1, -1), cmap='viridis', aspect='auto')
bar.axis('off')

# ---- e
ax = make_ax(44.3, 130, 805, 972.7, (0.375, 2.38), (0, 102.6))
pos = np.arange(1, len(e_groups) + 1)
ax.bar(pos, e_restricted, width=0.515, color='black', edgecolor='#555555', linewidth=0.6)
ax.bar(pos, e_unrestricted, width=0.515, bottom=e_restricted, color='#8f8f8f', edgecolor='#555555', linewidth=0.6)
ax.spines['left'].set_bounds(0, 100)
ax.set_xticks(pos)
ax.set_xticklabels(e_groups, rotation=40, ha='right', rotation_mode='anchor', fontsize=5.2, color='#222222')
ax.set_yticks([0, 20, 40, 60, 80, 100])
ax.tick_params(axis='y', length=3, labelsize=4.8, pad=2, labelrotation=90)
ax.tick_params(axis='x', length=3, pad=1.5)
for t in ax.get_yticklabels():
    t.set_va('center')
    t.set_color('#333333')
ax.set_ylabel('% of clones', fontsize=5.6, labelpad=3, color='#222222')

# ---- f
ax = make_ax(231.3, 421.3, 789, 979.3, (-3.8, 104), (-4, 104.1))
ax.spines['top'].set_visible(True)
ax.spines['right'].set_visible(True)
for s in ax.spines.values():
    s.set_color('#777777')
    s.set_linewidth(0.7)
ax.scatter(f_x, f_y, s=7, facecolors='none', edgecolors='#6e6e6e', linewidths=0.5, zorder=3)
ax.axline((0, f_intercept), slope=f_slope, color='#F0A0A0', lw=0.9, zorder=2)
ax.set_xticks([0, 20, 40, 60, 80, 100])
ax.set_yticks([0, 20, 40, 60, 80, 100])
ax.tick_params(length=2.5, labelsize=4.8, pad=1.5, colors='#444444')
ax.tick_params(axis='y', labelrotation=90)
for t in ax.get_yticklabels():
    t.set_va('center')

# ---- overlay in picture pixels: letters, titles, swatches, arrow
ov = fig.add_axes([0, 0, 1, 1], zorder=20)
ov.set_xlim(0, W)
ov.set_ylim(H, 0)
ov.axis('off')
ov.patch.set_alpha(0)


def txt(x, y, s, size, **kw):
    kw.setdefault('ha', 'left')
    kw.setdefault('va', 'center')
    ov.text(x, y, s, fontsize=size, **kw)


for s, x, y in [('a', 0, 7), ('b', 481, 9), ('c', 0, 216), ('d', 0, 522), ('e', 0, 779), ('f', 187, 777)]:
    txt(x, y, s, 14, fontweight='bold')

txt(20, 19.5, 'All clones', 6.7, fontweight='bold')
ov.scatter([71.7], [19], s=52, color='#FBC531', lw=0)
txt(115.5, 27, 'Sub-clustering', 5, fontweight='bold', fontstyle='italic')
ov.add_patch(FancyArrowPatch((135, 42.5), (193, 40), connectionstyle='arc3,rad=-0.22', arrowstyle='-|>', mutation_scale=8,
                             color='#EE1C25', lw=1.2, shrinkA=0, shrinkB=0))
txt(338, 20.5, 'Day', 6.7, fontweight='bold')
for x, s, col in zip([367.7, 376, 384, 392.3, 400.7, 408.7], day_names, day_swatch):
    ov.scatter([x], [20.7], s=20, color=col, lw=0)
    txt(x + 0.5, 12.5, s, 4.2, rotation=60, ha='center', color='#333333')

txt(507.7, 13.5, 'Original clustering', 6.5, fontweight='bold', fontstyle='italic')
txt(670, 6, 'Re-clustering', 6.5, fontweight='bold', fontstyle='italic')
txt(670, 17, 'Color: Original cluster IDs', 6.5, fontweight='bold', fontstyle='italic')

for ax_x, ax_y, s in [(88, 175.5, TSNE2), (248.5, 175.5, TSNE2), (406, 175.5, TSNE2), (577, 175.5, TSNE2), (734, 175.5, TSNE2)]:
    txt(ax_x, ax_y, s, 6.8, ha='center', color='#222222')
txt(8, 83, TSNE1, 6.8, rotation=90, ha='center', color='#222222')
txt(490, 90, TSNE2, 6.8, rotation=90, ha='center', color='#222222')

for left, s in zip(col_left, c_titles):
    txt(left + 1.5, 222.5, s, 8.3, fontweight='bold')
txt(9, 286, 'iEP-depleted', 12.4, rotation=90, ha='center')
txt(9, 411, 'iEP-enriched', 12.4, rotation=90, ha='center')

txt(44, 524, 'Day', 7.5, fontweight='bold', fontstyle='italic')
txt(231, 524, 'Seurat cluster ID', 7.5, fontweight='bold', fontstyle='italic')
txt(435, 524, 'Apoa1', 7.5, fontweight='bold', fontstyle='italic')
for y, s, col in zip([538.3, 545.7, 553, 560.3, 567.7, 575, 582.7, 590], d_days, d_day_colors):
    ov.scatter([53.3], [y], s=24, color=col, lw=0)
    txt(57.5, y, s, 4.4, color='#333333')
for x, y in [(133.5, 743), (327, 743), (529.5, 743)]:
    txt(x, y, 'Component 1', 7.3, ha='center', color='#222222')
txt(30.5, 630.5, 'Component 2', 7.3, rotation=90, ha='center', color='#222222')
txt(238.7, 698.3, '3', 6.4, fontweight='bold', ha='center')
txt(403.7, 714, '1', 6.4, fontweight='bold', ha='center')
txt(518.7, 520, 'Expression', 3.8, ha='center', color='#333333')
txt(500, 525.5, 'Low', 3.8, ha='right', color='#333333')
txt(538.5, 525.5, 'High', 3.8, color='#333333')

txt(45, 783, r'CellTag$^{D13}$', 7, fontweight='bold', fontstyle='italic')
txt(44, 796.7, 'Day 28 lineage restriction', 5.2, fontweight='bold')
ov.add_patch(Rectangle((116.7, 995), 6.6, 6.7, fc='black', ec='#555555', lw=0.3))
ov.add_patch(Rectangle((116.7, 1005.3), 6.6, 6.7, fc='#8f8f8f', ec='#555555', lw=0.3))
txt(126, 998.7, 'Restricted', 3.9, fontweight='bold', color='#222222')
txt(126, 1008.7, 'Unrestricted', 3.9, fontweight='bold', color='#222222')

txt(240.7, 801.7, r'$\mathit{r}$ = 0.71', 7.8, fontweight='bold')
txt(327.3, 1002.3, r'% of CellTag$^{D3}$ clone on reprogramming trajectory', 6.6, ha='center', color='#222222')
txt(206, 892.7, r'% of CellTag$^{MEF}$ clone on reprogramming trajectory', 6.6, rotation=90, ha='center', color='#222222')

fig.savefig('out.png', dpi=100)
